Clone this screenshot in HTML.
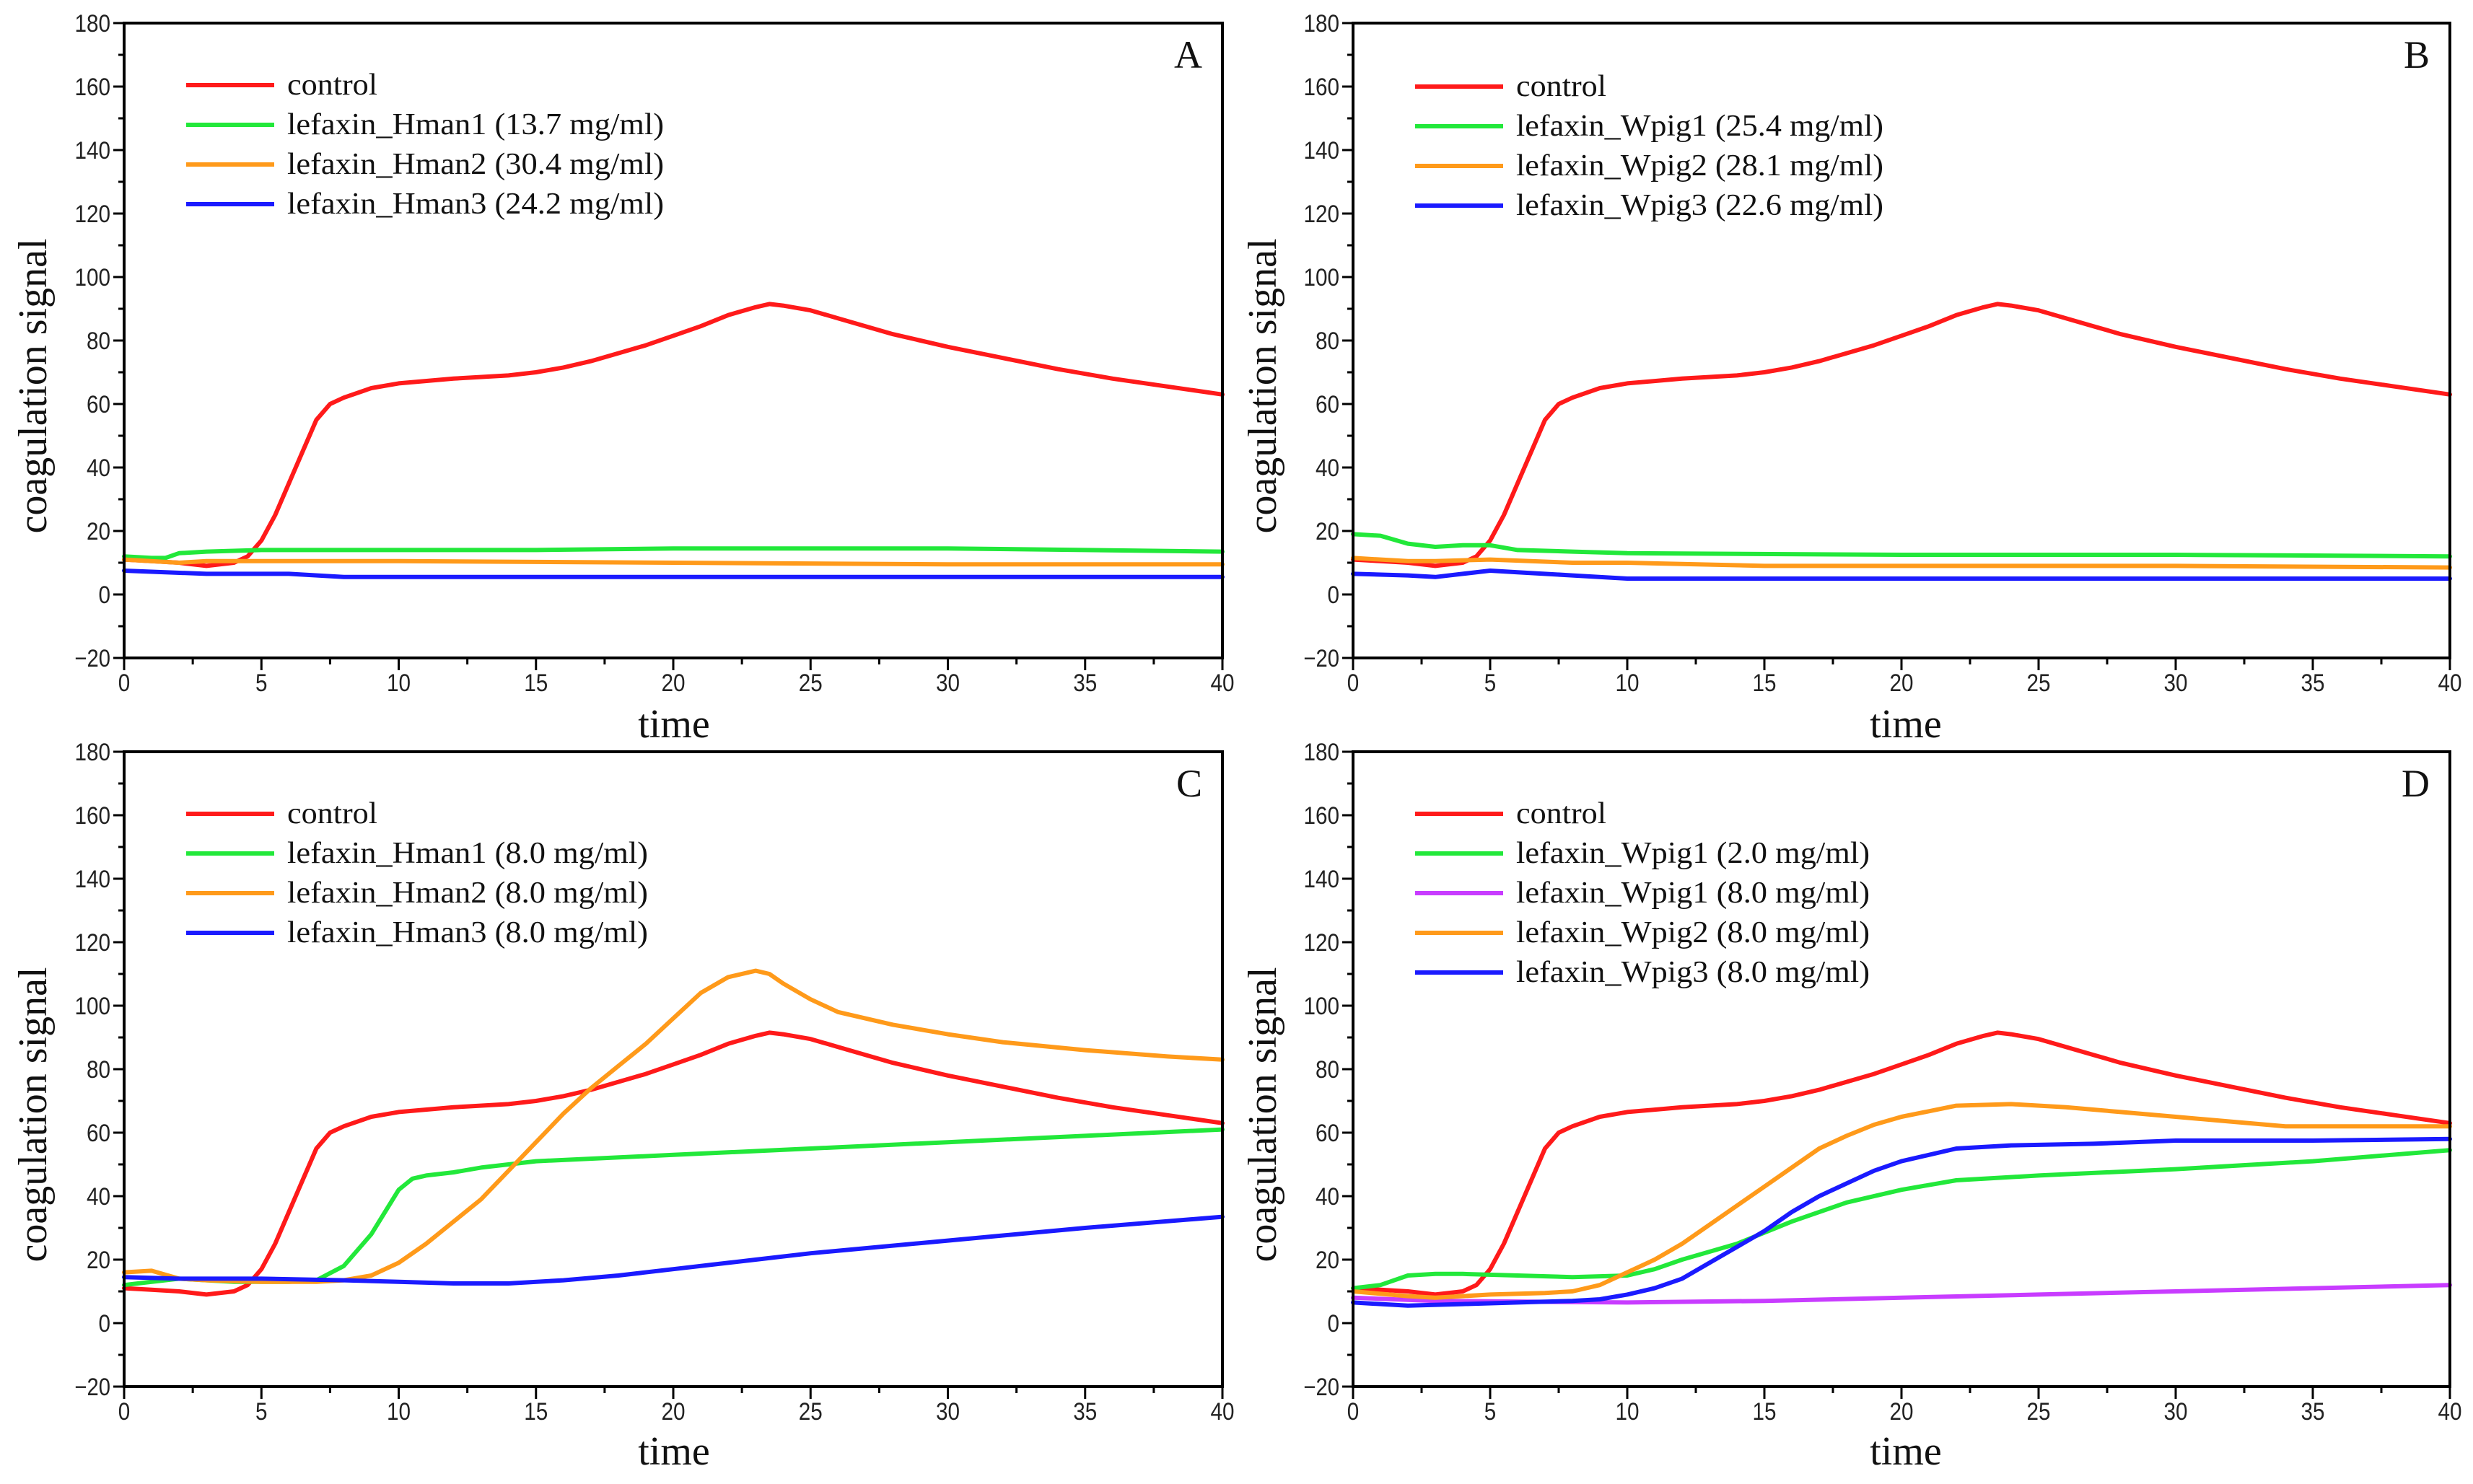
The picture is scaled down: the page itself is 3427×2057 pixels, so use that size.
<!DOCTYPE html>
<html><head><meta charset="utf-8"><style>
html,body{margin:0;padding:0;background:#fff;}
svg{display:block;}
.tick{font-family:"Liberation Sans",sans-serif;font-size:34px;fill:#222;}
.leg{font-family:"Liberation Serif",serif;font-size:42px;fill:#111;}
.ttl{font-family:"Liberation Serif",serif;font-size:56px;fill:#111;}
.pl{font-family:"Liberation Serif",serif;font-size:54px;fill:#111;}
</style></head><body>
<svg id="fig" width="3427" height="2057" viewBox="0 0 3427 2057" xmlns="http://www.w3.org/2000/svg"></svg>
<script>
const yTicks=[-20,0,20,40,60,80,100,120,140,160,180];
const xTicks=[0,5,10,15,20,25,30,35,40];
const colors={red:"#ff1a1a",green:"#22e83a",orange:"#ff9a1a",blue:"#1a1aff",purple:"#c83cff"};

const ctrlT=[0,1,2,3,4,4.5,5,5.5,6,6.5,7,7.5,8,9,10,12,14,15,16,17,18,19,20,21,22,23,23.5,24,25,26,27,28,30,32,34,36,38,40];
const ctrlV=[11,10.5,10,9,10,12,17,25,35,45,55,60,62,65,66.5,68,69,70,71.5,73.5,76,78.5,81.5,84.5,88,90.5,91.5,91,89.5,87,84.5,82,78,74.5,71,68,65.5,63];

const aGreenT=[0,1,1.5,2,3,5,10,15,20,25,30,35,40];
const aGreenV=[12,11.5,11.5,13,13.5,14,14,14,14.5,14.5,14.5,14,13.5];
const aOrangeT=[0,2,3,5,10,20,30,40];
const aOrangeV=[11,10,10.5,10.5,10.5,10,9.5,9.5];
const aBlueT=[0,3,5,6,8,40];
const aBlueV=[7.5,6.5,6.5,6.5,5.5,5.5];

const bGreenT=[0,1,2,3,4,5,6,8,10,20,30,40];
const bGreenV=[19,18.5,16,15,15.5,15.5,14,13.5,13,12.5,12.5,12];
const bOrangeT=[0,2,3,5,8,10,15,20,30,40];
const bOrangeV=[11.5,10.5,10.5,11,10,10,9,9,9,8.5];
const bBlueT=[0,2,3,4,5,6,8,10,15,20,30,40];
const bBlueV=[6.5,6,5.5,6.5,7.5,7,6,5,5,5,5,5];

const cGreenT=[0,2,4,6,7,8,9,9.5,10,10.5,11,12,13,15,20,25,30,35,40];
const cGreenV=[12,14,13,13,13.5,18,28,35,42,45.5,46.5,47.5,49,51,53,55,57,59,61];
const cOrangeT=[0,1,2,3,5,7,8,9,10,11,12,13,14,15,16,17,18,19,20,21,22,23,23.5,24,25,26,28,30,32,35,38,40];
const cOrangeV=[16,16.5,14,13.5,13,13,13.5,15,19,25,32,39,48,57,66,74,81,88,96,104,109,111,110,107,102,98,94,91,88.5,86,84,83];
const cBlueT=[0,2,5,8,10,12,14,16,18,20,22,23,25,30,35,40];
const cBlueV=[14.5,14,14,13.5,13,12.5,12.5,13.5,15,17,19,20,22,26,30,33.5];

const dGreenT=[0,1,2,3,4,6,8,10,11,12,14,16,18,20,22,25,30,35,40];
const dGreenV=[11,12,15,15.5,15.5,15,14.5,15,17,20,25,32,38,42,45,46.5,48.5,51,54.5];
const dPurpleT=[0,3,10,15,20,25,30,35,40];
const dPurpleV=[8,7,6.5,7,8,9,10,11,12];
const dOrangeT=[0,2,3,4,5,7,8,9,10,11,12,13,14,15,16,17,18,19,20,22,24,26,28,30,32,34,36,40];
const dOrangeV=[10,8.5,8,8.5,9,9.5,10,12,16,20,25,31,37,43,49,55,59,62.5,65,68.5,69,68,66.5,65,63.5,62,62,62];
const dBlueT=[0,2,4,6,8,9,10,11,12,13,14,15,16,17,18,19,20,21,22,24,27,30,35,40];
const dBlueV=[6.5,5.5,6,6.5,7,7.5,9,11,14,19,24,29,35,40,44,48,51,53,55,56,56.5,57.5,57.5,58];

const panels=[
 {id:"a",L:"A",x0:172,x1:1694,y0:824,dy:4.4,ttlX:46,ttlY:535,timeX:934,timeY:1022,legX:258,legY:118,
  series:[["control",ctrlT,ctrlV,"red"],["lefaxin_Hman1 (13.7 mg/ml)",aGreenT,aGreenV,"green"],["lefaxin_Hman2 (30.4 mg/ml)",aOrangeT,aOrangeV,"orange"],["lefaxin_Hman3 (24.2 mg/ml)",aBlueT,aBlueV,"blue"]],
  lw:[125,522,522,522]},
 {id:"b",L:"B",x0:1875,x1:3395,y0:824,dy:4.4,ttlX:1750,ttlY:535,timeX:2641,timeY:1022,legX:1961,legY:120,
  series:[["control",ctrlT,ctrlV,"red"],["lefaxin_Wpig1 (25.4 mg/ml)",bGreenT,bGreenV,"green"],["lefaxin_Wpig2 (28.1 mg/ml)",bOrangeT,bOrangeV,"orange"],["lefaxin_Wpig3 (22.6 mg/ml)",bBlueT,bBlueV,"blue"]],
  lw:[125,509,509,509]},
 {id:"c",L:"C",x0:172,x1:1694,y0:1834,dy:4.4,ttlX:46,ttlY:1545,timeX:934,timeY:2030,legX:258,legY:1128,
  series:[["control",ctrlT,ctrlV,"red"],["lefaxin_Hman1 (8.0 mg/ml)",cGreenT,cGreenV,"green"],["lefaxin_Hman2 (8.0 mg/ml)",cOrangeT,cOrangeV,"orange"],["lefaxin_Hman3 (8.0 mg/ml)",cBlueT,cBlueV,"blue"]],
  lw:[125,500,500,500]},
 {id:"d",L:"D",x0:1875,x1:3395,y0:1834,dy:4.4,ttlX:1750,ttlY:1545,timeX:2641,timeY:2030,legX:1961,legY:1128,
  series:[["control",ctrlT,ctrlV,"red"],["lefaxin_Wpig1 (2.0 mg/ml)",dGreenT,dGreenV,"green"],["lefaxin_Wpig1 (8.0 mg/ml)",dPurpleT,dPurpleV,"purple"],["lefaxin_Wpig2 (8.0 mg/ml)",dOrangeT,dOrangeV,"orange"],["lefaxin_Wpig3 (8.0 mg/ml)",dBlueT,dBlueV,"blue"]],
  lw:[125,490,490,490,490]}
];
const NS="http://www.w3.org/2000/svg";
const svg=document.getElementById('fig');
function mk(tag,attrs,parent){const e=document.createElementNS(NS,tag);for(const k in attrs)e.setAttribute(k,attrs[k]);parent.appendChild(e);return e;}
panels.forEach(p=>{
  const g=mk('g',{},svg);
  
  
  const xs=t=>p.x0+(p.x1-p.x0)*t/40;
  const ys=v=>p.y0-v*p.dy;
  const top=ys(180),bot=ys(-20);
  p.series.forEach((s,i)=>{
    const pts=s[1].map((t,j)=>xs(t).toFixed(1)+","+ys(s[2][j]).toFixed(1)).join(" ");
    const pl=mk('polyline',{points:pts,fill:"none",stroke:colors[s[3]],"stroke-width":6,"stroke-linejoin":"round","stroke-linecap":"round"},g);
    
    
  });
  const fr=mk('rect',{x:p.x0,y:top,width:p.x1-p.x0,height:bot-top,fill:"none",stroke:"#000","stroke-width":4},g);
  
  
  for(let v=-20;v<=180;v+=10){
    const major=v%20===0;
    mk('line',{x1:p.x0-(major?15:8),x2:p.x0,y1:ys(v),y2:ys(v),stroke:"#000","stroke-width":3},g);
  }
  yTicks.forEach(v=>{
    const s=(v<0?"\u2212":"")+Math.abs(v);
    const t=mk('text',{x:p.x0-19,y:ys(v)+12,"text-anchor":"end",class:"tick",textLength:s.length*16.5,lengthAdjust:"spacingAndGlyphs"},g);
    t.textContent=s;
    
    
  });
  for(let x=0;x<=40;x+=2.5){
    const major=x%5===0;
    mk('line',{x1:xs(x),x2:xs(x),y1:bot,y2:bot+(major?17:9),stroke:"#000","stroke-width":3},g);
  }
  xTicks.forEach(x=>{
    const s=String(x);
    const t=mk('text',{x:xs(x),y:bot+46,"text-anchor":"middle",class:"tick",textLength:s.length*16.5,lengthAdjust:"spacingAndGlyphs"},g);
    t.textContent=s;
    
    
  });
  const yt=mk('text',{x:0,y:0,class:"ttl","text-anchor":"middle",transform:`translate(${p.ttlX+18},${p.ttlY}) rotate(-90)`},g);
  yt.textContent="coagulation signal";
  
  
  const xt=mk('text',{x:p.timeX,y:p.timeY,class:"ttl","text-anchor":"middle"},g);
  xt.textContent="time";
  
  
  const pl=mk('text',{x:p.x1-28,y:top+62,class:"pl","text-anchor":"end"},g);
  pl.textContent=p.L;
  
  
  p.series.forEach((s,i)=>{
    const yy=p.legY+i*55;
    const ln=mk('line',{x1:p.legX,x2:p.legX+122,y1:yy,y2:yy,stroke:colors[s[3]],"stroke-width":6},g);
    
    
    const tx=mk('text',{x:p.legX+140,y:yy+13,class:"leg",textLength:p.lw[i],lengthAdjust:"spacingAndGlyphs"},g);
    tx.textContent=s[0];
    
    
  });
});
</script>
</body></html>
